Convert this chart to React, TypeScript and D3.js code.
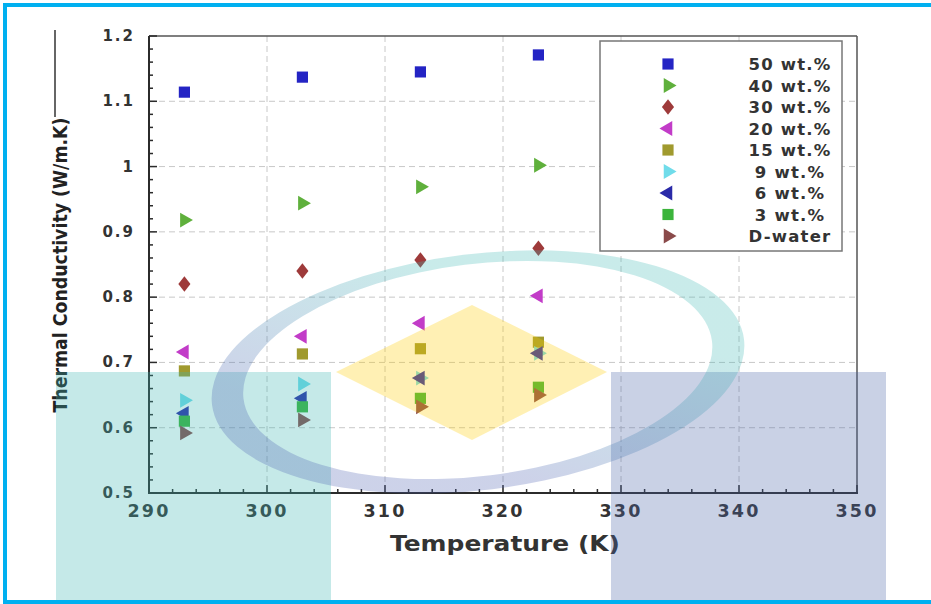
import * as d3 from "d3";

// temperature (K) of the measurements
const temps = [293, 303, 313, 323];

// thermal conductivity (W/m.K) per loading
const k50 = [1.114, 1.137, 1.145, 1.171];
const k40 = [0.918, 0.944, 0.969, 1.002];
const k30 = [0.82, 0.84, 0.857, 0.875];
const k20 = [0.716, 0.74, 0.76, 0.802];
const k15 = [0.687, 0.713, 0.721, 0.731];
const k9 = [0.642, 0.667, 0.676, 0.714];
const k6 = [0.622, 0.645, 0.676, 0.714];
const k3 = [0.61, 0.632, 0.645, 0.662];
const kWater = [0.592, 0.612, 0.632, 0.65];

const labels = ["50 wt.%", "40 wt.%", "30 wt.%", "20 wt.%", "15 wt.%", "9 wt.%", "6 wt.%", "3 wt.%", "D-water"];
const colors = ["#2424c4", "#5fb03c", "#9e3a3a", "#c23cc8", "#a09a2e", "#70dcea", "#2a2aa8", "#3cb43c", "#8a4a4a"];
const shapes = ["square", "right", "diamond", "left", "square", "right", "left", "square", "right"];
const values = [k50, k40, k30, k20, k15, k9, k6, k3, kWater];

const xTicks = [290, 300, 310, 320, 330, 340, 350];
const yTicks = [0.5, 0.6, 0.7, 0.8, 0.9, 1, 1.1, 1.2];

const W = 931;
const H = 604;
const M = { left: 149, right: 857, top: 36, bottom: 493 };

const x = d3.scaleLinear().domain([290, 350]).range([M.left, M.right]);
const y = d3.scaleLinear().domain([0.5, 1.2]).range([M.bottom, M.top]);

const tri = d3.symbol().type(d3.symbolTriangle).size(95)();
const sq = d3.symbol().type(d3.symbolSquare).size(125)();
const dia = d3.symbol().type(d3.symbolDiamond).size(70)();

function Marker({ shape, color, cx, cy }: { shape: string; color: string; cx: number; cy: number }) {
  let d = sq;
  let tf = `translate(${cx},${cy})`;
  if (shape === "right") {
    d = tri;
    tf += " rotate(90)";
  } else if (shape === "left") {
    d = tri;
    tf += " rotate(-90)";
  } else if (shape === "diamond") {
    d = dia;
    tf += " scale(1.35,1)";
  }
  return <path d={d!} transform={tf} fill={color} />;
}

export default function App() {
  const minorX = d3.range(290, 351, 2).filter((v) => v % 10 !== 0);
  const minorY = d3.range(50, 121, 2).filter((v) => v % 10 !== 0).map((v) => v / 100);
  const font = "'DejaVu Sans', 'Liberation Sans', Arial, sans-serif";

  return (
    <svg
      width={W}
      height={H}
      style={{ position: "absolute", left: 0, top: 0, background: "#fff" }}
      fontFamily={font}
    >
      <defs>
        <linearGradient id="ring" x1="0" y1="1" x2="1" y2="0">
          <stop offset="0.3" stopColor="#4b5fb0" />
          <stop offset="0.7" stopColor="#3eb8b4" />
        </linearGradient>
      </defs>

      {/* grid */}
      <g stroke="#c8c8c8" strokeWidth={1} strokeDasharray="6,4">
        {xTicks.slice(1, -1).map((t) => (
          <line key={t} x1={x(t)} x2={x(t)} y1={M.top} y2={M.bottom} />
        ))}
        {yTicks.slice(1, -1).map((t) => (
          <line key={t} x1={M.left} x2={M.right} y1={y(t)} y2={y(t)} />
        ))}
      </g>

      {/* frame */}
      <line x1={M.left} x2={M.right} y1={M.top} y2={M.top} stroke="#555" strokeWidth={1.5} />
      <line x1={M.right} x2={M.right} y1={M.top} y2={M.bottom} stroke="#555" strokeWidth={1.5} />
      <line x1={M.left} x2={M.left} y1={M.top} y2={M.bottom + 1} stroke="#2b2b2b" strokeWidth={2} />
      <line x1={M.left - 1} x2={M.right + 1} y1={M.bottom} y2={M.bottom} stroke="#2b2b2b" strokeWidth={2} />

      {/* ticks */}
      <g stroke="#2b2b2b" strokeWidth={1.5}>
        {xTicks.map((t) => (
          <line key={t} x1={x(t)} x2={x(t)} y1={M.bottom} y2={M.bottom - 8} />
        ))}
        {minorX.map((t) => (
          <line key={t} x1={x(t)} x2={x(t)} y1={M.bottom} y2={M.bottom - 4} />
        ))}
        {yTicks.map((t) => (
          <line key={t} x1={M.left} x2={M.left + 8} y1={y(t)} y2={y(t)} />
        ))}
        {minorY.map((t) => (
          <line key={t} x1={M.left} x2={M.left + 4} y1={y(t)} y2={y(t)} />
        ))}
      </g>

      {/* tick labels */}
      <g fontWeight="bold" fill="#333" fontSize={17.5}>
        {xTicks.map((t) => (
          <text key={t} x={x(t)} y={517} textAnchor="middle" letterSpacing={2.2}>
            {t}
          </text>
        ))}
      </g>
      <g fontWeight="bold" fill="#333" fontSize={15}>
        {yTicks.map((t) => (
          <text key={t} x={135} y={y(t) + 5} textAnchor="end" letterSpacing={2}>
            {+t.toFixed(1)}
          </text>
        ))}
      </g>

      {/* axis titles */}
      <text x={505} y={551} textAnchor="middle" fontWeight="bold" fontSize={21} fill="#333" textLength={230} lengthAdjust="spacingAndGlyphs">
        Temperature (K)
      </text>
      <text
        transform="translate(67,265) rotate(-90)"
        textAnchor="middle"
        fontWeight="bold"
        fontSize={19}
        fill="#222"
        textLength={295}
        lengthAdjust="spacingAndGlyphs"
      >
        Thermal Conductivity (W/m.K)
      </text>
      <line x1={55} x2={55} y1={30} y2={117} stroke="#333" strokeWidth={1.5} />

      {/* data */}
      {values.map((vals, i) =>
        vals.map((v, j) => (
          <Marker key={`${i}-${j}`} shape={shapes[i]} color={colors[i]} cx={x(temps[j])} cy={y(v)} />
        ))
      )}

      {/* legend */}
      <rect x={600} y={41} width={242} height={210} fill="#fff" stroke="#777" strokeWidth={1.5} />
      {labels.map((l, i) => (
        <g key={l}>
          <Marker shape={shapes[i]} color={colors[i]} cx={668} cy={64 + i * 21.5} />
          <text x={790} y={64 + i * 21.5 + 6} textAnchor="middle" fontWeight="bold" fontSize={16.5} fill="#333" letterSpacing={1.2}>
            {l}
          </text>
        </g>
      ))}

      {/* watermark overlay */}
      <g>
        <rect x={56} y={372} width={275} height={240} fill="#3eb6b2" opacity={0.3} />
        <rect x={611} y={372} width={275} height={240} fill="#4b66a8" opacity={0.3} />
        <path d="M336,372 L472,305 L607,372 L472,440 Z" fill="#ffcd05" opacity={0.3} />
        <path
          transform="rotate(-7,478,372)"
          d={`M210,372 a268,118 0 1,0 536,0 a268,118 0 1,0 -536,0 Z M242,370 a236,106 0 1,0 472,0 a236,106 0 1,0 -472,0 Z`}
          fill="url(#ring)"
          fillRule="evenodd"
          opacity={0.28}
        />
      </g>

      {/* border */}
      <rect x={5} y={5} width={W + 20} height={H - 7} fill="none" stroke="#00b0f0" strokeWidth={4} />
    </svg>
  );
}
